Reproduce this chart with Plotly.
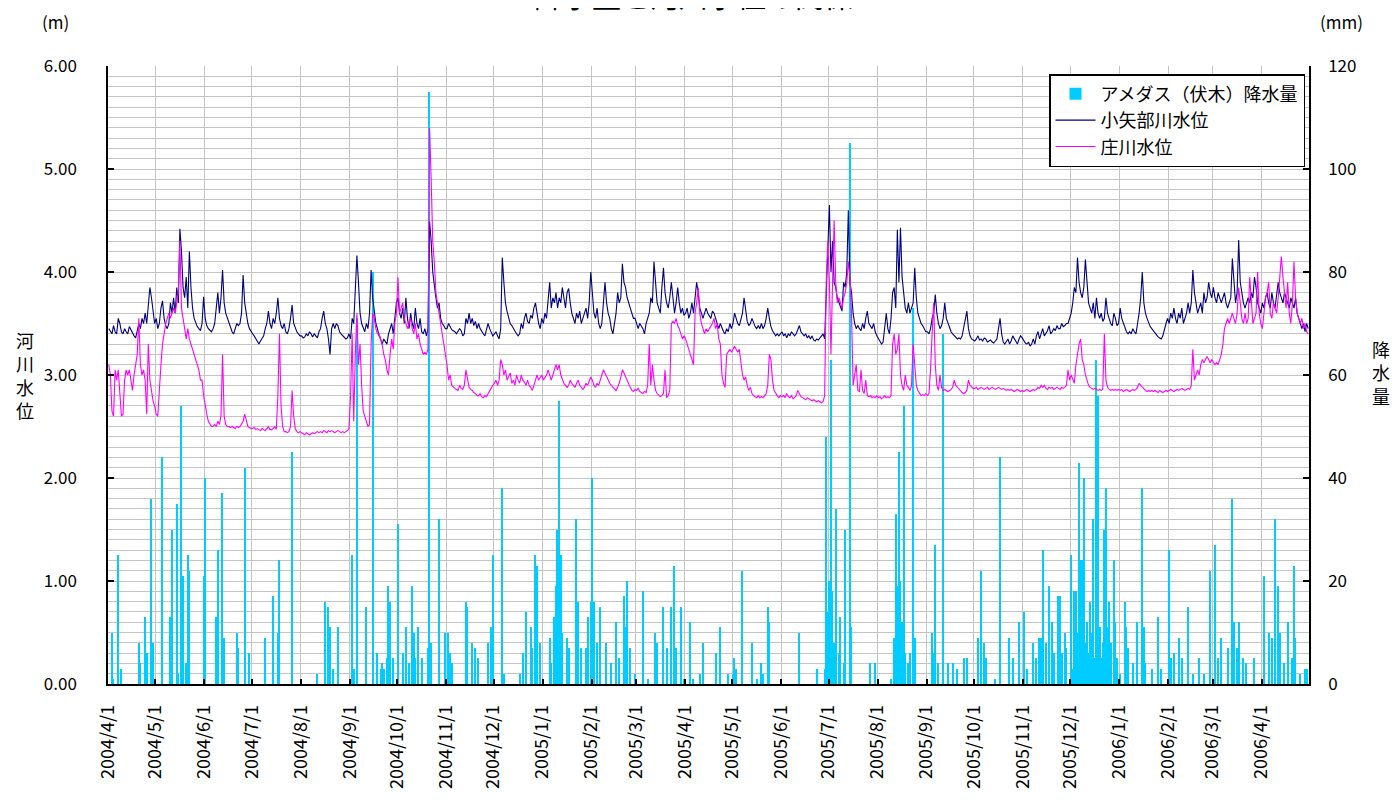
import pandas as pd
import plotly.graph_objects as go

# ---------------- data ----------------
month_labels = ["2004/4/1", "2004/5/1", "2004/6/1", "2004/7/1", "2004/8/1", "2004/9/1",
                "2004/10/1", "2004/11/1", "2004/12/1", "2005/1/1", "2005/2/1", "2005/3/1",
                "2005/4/1", "2005/5/1", "2005/6/1", "2005/7/1", "2005/8/1", "2005/9/1",
                "2005/10/1", "2005/11/1", "2005/12/1", "2006/1/1", "2006/2/1", "2006/3/1",
                "2006/4/1"]

# 小矢部川水位 (m), daily, one list per month
oyabe_level = [
    [3.45,3.42,3.40,3.48,3.42,3.40,3.55,3.50,3.42,3.40,3.45,3.42,3.40,3.47,3.44,3.40,3.38,3.36,3.42,3.50,3.45,3.55,3.50,3.60,3.50,3.65,3.85,3.75,3.60,3.50],
    [3.55,3.45,3.50,3.65,3.72,3.55,3.48,3.45,3.50,3.70,3.60,3.75,3.60,3.85,3.70,4.42,4.20,3.85,3.75,3.95,3.65,4.20,3.85,3.65,3.55,3.50,3.47,3.45,3.43,3.50,3.76],
    [3.55,3.48,3.45,3.43,3.42,3.45,3.50,3.65,3.80,3.60,3.75,4.02,3.70,3.60,3.55,3.50,3.45,3.42,3.40,3.45,3.50,3.48,3.50,3.60,3.97,3.70,3.60,3.50,3.45,3.42],
    [3.40,3.38,3.35,3.32,3.30,3.33,3.35,3.38,3.45,3.50,3.62,3.50,3.45,3.55,3.50,3.60,3.75,3.55,3.48,3.45,3.50,3.42,3.40,3.45,3.55,3.68,3.50,3.45,3.42,3.40,3.38],
    [3.38,3.36,3.37,3.40,3.38,3.42,3.40,3.37,3.40,3.38,3.36,3.42,3.45,3.55,3.62,3.50,3.45,3.35,3.20,3.45,3.50,3.45,3.50,3.48,3.42,3.40,3.38,3.36,3.35,3.36,3.40],
    [3.35,3.55,3.50,3.90,4.16,3.90,3.60,3.50,3.45,3.42,3.50,3.45,3.60,4.02,3.75,3.60,3.50,3.45,3.38,3.35,3.30,3.35,3.32,3.30,3.40,3.45,3.50,3.40,3.55,3.70],
    [3.75,3.60,3.55,3.65,3.50,3.75,3.55,3.45,3.60,3.50,3.45,3.65,3.50,3.45,3.55,3.42,3.40,3.45,3.38,3.45,4.49,4.30,4.00,3.85,3.75,3.65,3.70,3.55,3.50,3.48,3.45],
    [3.45,3.50,3.47,3.44,3.43,3.42,3.40,3.42,3.45,3.43,3.38,3.40,3.55,3.50,3.60,3.50,3.55,3.48,3.52,3.45,3.50,3.45,3.42,3.40,3.38,3.45,3.50,3.45,3.42,3.38],
    [3.40,3.42,3.38,3.35,3.45,4.14,3.90,3.70,3.62,3.55,3.50,3.48,3.45,3.42,3.40,3.38,3.40,3.50,3.45,3.55,3.60,3.52,3.50,3.58,3.55,3.65,3.70,3.60,3.50,3.45,3.55],
    [3.50,3.60,3.55,3.70,3.90,3.65,3.75,3.70,3.80,3.65,3.75,3.70,3.85,3.75,3.65,3.80,3.84,3.70,3.60,3.55,3.50,3.60,3.55,3.62,3.50,3.55,3.60,3.65,3.55,3.70,4.00],
    [3.75,3.60,3.55,3.65,3.50,3.45,3.50,3.70,3.90,3.70,3.60,3.55,3.45,3.40,3.50,3.60,3.80,3.70,3.75,4.08,3.90,3.85,3.75,3.70,3.65,3.60,3.55,3.55],
    [3.50,3.45,3.50,3.48,3.45,3.40,3.50,3.55,3.60,3.75,3.70,4.10,3.85,3.70,3.65,3.60,3.85,4.04,3.80,3.70,3.65,3.75,3.90,3.75,3.60,3.70,3.85,3.70,3.60,3.65,3.58],
    [3.60,3.65,3.55,3.60,3.70,3.60,3.75,3.90,3.80,3.65,3.60,3.55,3.60,3.65,3.60,3.58,3.55,3.62,3.60,3.55,3.50,3.45,3.50,3.45,3.42,3.40,3.45,3.42,3.50,3.45],
    [3.50,3.60,3.55,3.50,3.48,3.55,3.60,3.75,3.60,3.52,3.48,3.50,3.55,3.50,3.47,3.45,3.48,3.45,3.50,3.45,3.48,3.55,3.65,3.55,3.47,3.43,3.40,3.38,3.40,3.38,3.40],
    [3.42,3.38,3.40,3.36,3.40,3.38,3.42,3.40,3.38,3.40,3.45,3.48,3.42,3.40,3.38,3.40,3.36,3.38,3.35,3.38,3.34,3.33,3.35,3.34,3.36,3.38,3.40,3.35,3.86,4.30],
    [4.65,4.00,4.30,3.90,3.85,3.75,3.70,3.65,3.62,3.90,3.85,4.00,4.60,3.90,3.80,3.60,3.50,3.45,3.48,3.45,3.43,3.50,3.45,3.55,3.62,3.50,3.48,3.45,3.50,3.42,3.38],
    [3.35,3.32,3.30,3.32,3.45,3.60,3.45,3.40,3.55,3.80,3.85,3.65,4.41,3.90,4.43,3.95,3.80,3.65,3.60,3.70,3.60,3.65,3.70,4.04,3.75,3.60,3.55,3.50,3.48,3.45,3.42],
    [3.42,3.40,3.45,3.55,3.60,3.78,3.60,3.50,3.45,3.48,3.55,3.70,3.55,3.50,3.45,3.42,3.40,3.38,3.36,3.35,3.36,3.35,3.38,3.45,3.55,3.62,3.45,3.38,3.35,3.34],
    [3.33,3.35,3.38,3.34,3.35,3.33,3.36,3.35,3.32,3.33,3.34,3.32,3.31,3.33,3.35,3.45,3.55,3.40,3.32,3.30,3.32,3.35,3.30,3.33,3.38,3.35,3.32,3.30,3.35,3.38,3.36],
    [3.33,3.31,3.30,3.32,3.28,3.30,3.35,3.30,3.38,3.42,3.35,3.40,3.45,3.38,3.40,3.43,3.48,3.40,3.42,3.45,3.43,3.48,3.45,3.45,3.50,3.47,3.48,3.50,3.50,3.55],
    [3.60,3.70,3.85,3.80,4.14,3.90,3.80,3.75,3.85,4.12,3.85,3.70,3.65,3.60,3.70,3.55,3.75,3.60,3.55,3.60,3.52,3.55,3.75,3.60,3.55,3.50,3.48,3.60,3.55,3.48,3.50],
    [3.65,3.55,3.50,3.45,3.42,3.40,3.42,3.40,3.45,3.42,3.40,3.50,3.60,3.75,4.00,3.70,3.60,3.55,3.50,3.47,3.45,3.43,3.40,3.38,3.37,3.36,3.35,3.38,3.45,3.50,3.55],
    [3.50,3.60,3.55,3.65,3.55,3.50,3.60,3.55,3.65,3.50,3.55,3.60,3.70,3.60,3.70,4.02,3.80,3.70,3.60,3.65,3.70,3.60,3.80,3.70,3.75,3.90,3.80,3.75],
    [3.85,3.75,3.70,3.80,3.75,3.70,3.75,3.80,3.70,3.65,3.70,3.75,4.13,3.85,3.70,3.80,4.31,3.90,3.80,3.70,3.65,3.70,3.75,3.70,3.80,3.75,3.95,3.85,3.70,3.65,3.60],
    [3.70,3.65,3.75,3.80,3.70,3.65,3.80,3.70,3.65,3.80,3.90,3.80,3.75,3.70,3.80,3.75,3.70,3.65,3.75,3.70,3.65,3.75,3.60,3.55,3.50,3.45,3.50,3.42,3.50,3.45],
]

# 庄川水位 (m), daily, one list per month
shokawa_level = [
    [3.10,3.00,2.65,2.60,3.05,2.95,3.05,2.85,2.60,2.62,2.95,3.05,3.00,3.05,2.95,2.85,3.00,3.10,3.20,3.55,3.10,3.00,3.05,2.95,2.62,3.30,2.95,2.85,2.75,2.70],
    [2.62,2.60,2.90,3.10,3.30,3.40,3.50,3.55,3.60,3.55,3.60,3.65,3.60,3.70,3.80,4.30,3.65,3.55,3.45,3.35,3.45,3.35,3.30,3.25,3.20,3.15,3.10,3.05,2.95,2.95,2.80],
    [2.70,2.62,2.55,2.52,2.50,2.50,2.52,2.50,2.55,2.52,2.60,3.20,2.60,2.52,2.50,2.50,2.49,2.50,2.49,2.48,2.50,2.49,2.50,2.52,2.55,2.62,2.55,2.50,2.49,2.48],
    [2.48,2.49,2.47,2.48,2.47,2.46,2.48,2.47,2.46,2.48,2.50,2.47,2.47,2.48,2.50,2.47,2.80,3.40,2.70,2.50,2.45,2.45,2.44,2.45,2.50,2.85,2.60,2.48,2.45,2.44,2.45],
    [2.44,2.43,2.42,2.44,2.43,2.42,2.43,2.44,2.43,2.44,2.45,2.44,2.45,2.44,2.46,2.45,2.44,2.46,2.45,2.46,2.45,2.44,2.45,2.46,2.45,2.44,2.45,2.44,2.45,2.46,2.48],
    [2.80,3.40,2.55,3.20,3.60,3.10,3.30,2.90,2.65,2.60,2.55,2.50,2.52,3.30,3.60,3.55,3.45,3.40,3.40,3.35,3.30,3.20,3.15,3.05,3.00,3.20,3.35,3.25,3.50,3.60],
    [3.95,3.60,3.65,3.70,3.55,3.50,3.45,3.50,3.55,3.45,3.40,3.50,3.35,3.40,3.30,3.25,3.20,3.22,3.20,3.25,5.40,4.90,4.30,4.10,3.80,3.70,3.60,3.50,3.40,3.30,3.20],
    [3.10,2.95,3.00,2.90,2.88,2.87,2.86,2.85,2.90,2.87,2.86,2.90,3.05,2.95,2.88,2.86,2.85,2.83,2.82,2.80,2.80,2.82,2.79,2.78,2.80,2.79,2.82,2.85,2.88,2.90],
    [2.92,2.95,2.90,2.95,3.15,3.10,3.00,3.05,2.95,2.98,3.02,2.92,2.95,2.90,3.00,2.95,2.92,3.00,2.95,2.93,2.90,2.95,2.90,2.88,2.85,2.90,2.95,3.00,2.95,2.98,3.00],
    [2.95,2.98,3.00,3.05,3.00,2.95,3.00,3.05,3.10,3.05,3.10,3.00,2.95,2.92,2.90,2.88,2.90,2.95,2.92,2.90,2.88,2.92,2.95,2.90,2.88,2.86,2.88,2.92,2.90,2.95,2.98],
    [2.95,2.90,2.88,2.92,2.90,2.95,3.00,3.05,3.02,2.98,2.95,2.92,2.90,2.88,2.86,2.85,2.88,2.92,2.98,3.05,3.02,2.98,2.95,2.90,2.88,2.85,2.84,2.86],
    [2.85,2.87,2.84,2.83,2.82,2.84,2.83,2.90,3.30,2.90,3.10,2.95,2.85,2.82,2.80,2.79,2.80,2.82,3.05,2.78,2.80,2.85,3.50,3.52,3.50,3.55,3.48,3.45,3.40,3.35,3.38],
    [3.35,3.30,3.25,3.20,3.15,3.10,3.60,3.70,3.85,3.60,3.50,3.45,3.40,3.45,3.42,3.45,3.48,3.50,3.55,3.45,3.50,3.35,3.30,3.00,2.92,2.88,3.20,3.22,3.25,3.22],
    [3.25,3.28,3.25,3.22,3.25,3.10,3.00,2.95,2.98,2.90,2.85,2.88,2.82,2.80,2.79,2.78,2.80,2.78,2.79,2.78,2.80,2.82,2.90,3.20,3.15,2.95,2.85,2.82,2.80,2.78,2.80],
    [2.79,2.80,2.78,2.82,2.79,2.78,2.80,2.77,2.78,2.80,2.85,2.82,2.79,2.78,2.77,2.76,2.78,2.77,2.76,2.75,2.76,2.75,2.74,2.75,2.74,2.73,2.74,2.80,3.90,4.30],
    [3.90,3.20,3.90,4.50,3.90,3.70,3.75,3.70,3.65,3.75,3.80,3.90,4.10,3.95,3.60,2.90,3.00,3.10,2.85,2.84,3.05,2.85,2.82,2.95,2.80,2.79,2.80,2.78,2.79,2.78,2.80],
    [2.78,2.79,2.77,2.78,2.80,2.78,2.79,2.78,2.80,3.30,3.40,3.20,3.25,3.40,3.00,2.90,2.85,3.00,2.90,2.88,2.85,2.90,3.30,3.10,2.90,2.85,2.82,2.80,2.81,2.80,2.82],
    [2.80,2.82,3.05,3.40,3.70,3.10,2.90,2.85,3.00,2.88,2.85,2.86,2.85,2.84,2.85,2.86,2.88,2.95,2.90,2.88,2.86,2.84,2.83,2.82,2.83,2.85,2.95,2.90,2.88,2.87],
    [2.87,2.88,2.86,2.87,2.88,2.87,2.86,2.87,2.88,2.86,2.87,2.88,2.87,2.86,2.87,2.88,2.87,2.86,2.87,2.86,2.85,2.86,2.85,2.86,2.85,2.84,2.85,2.86,2.85,2.84,2.85],
    [2.84,2.85,2.86,2.85,2.84,2.85,2.86,2.85,2.86,2.88,2.87,2.90,2.88,2.90,2.87,2.86,2.88,2.87,2.88,2.86,2.87,2.88,2.87,2.86,2.88,2.87,2.88,2.90,3.05,2.95],
    [3.00,2.95,2.92,3.10,3.20,3.30,3.35,3.15,3.10,3.00,2.95,2.90,2.88,2.87,2.86,2.87,2.86,2.85,2.86,2.85,2.86,3.40,2.95,2.88,2.86,2.85,2.86,2.85,2.86,2.85,2.86],
    [2.85,2.86,2.84,2.85,2.86,2.85,2.84,2.85,2.86,2.85,2.86,2.88,2.92,2.90,2.88,2.86,2.85,2.84,2.85,2.84,2.85,2.84,2.85,2.84,2.83,2.85,2.84,2.83,2.84,2.85,2.84],
    [2.85,2.86,2.85,2.84,2.85,2.86,2.85,2.86,2.87,2.86,2.85,2.86,2.87,2.86,2.90,3.25,2.95,3.00,3.05,3.00,3.10,3.15,3.12,3.15,3.18,3.15,3.12,3.15],
    [3.12,3.10,3.12,3.10,3.15,3.20,3.30,3.45,3.50,3.55,3.50,3.55,3.60,3.55,3.50,3.60,3.85,3.70,3.55,3.50,3.60,3.50,3.55,3.95,3.70,3.50,3.55,3.60,4.00,3.60,3.50],
    [3.45,3.60,3.75,3.80,3.90,3.60,3.55,3.70,3.65,3.60,3.75,3.95,4.15,3.95,3.80,3.65,3.90,3.60,3.50,3.70,4.10,3.75,3.60,3.55,3.50,3.55,3.45,3.50,3.42,3.40],
]

# アメダス(伏木)降水量 (mm): rainy days, counted from 2004/4/1
rain_day = [2,3,6,8,19,20,23,24,27,28,34,39,40,43,44,46,47,49,50,51,60,61,68,69,72,73,81,82,86,89,
            99,104,107,108,116,132,137,139,140,142,145,154,155,157,163,167,170,172,173,174,176,177,178,180,
            183,186,188,190,192,193,194,196,198,202,203,204,209,213,215,216,217,226,227,230,232,234,240,242,243,
            249,250,260,262,264,267,268,270,271,273,279,280,282,283,284,285,286,287,290,291,296,297,299,302,303,
            305,306,307,309,311,315,318,321,323,326,327,328,330,333,338,341,346,347,351,353,356,358,359,362,364,
            368,370,374,376,384,387,392,395,396,397,401,407,410,413,414,417,418,437,448,453,454,455,456,457,458,
            459,460,462,463,465,466,469,470,482,485,495,497,498,499,500,501,502,503,504,506,507,509,510,521,522,
            523,525,528,531,534,537,541,543,550,552,554,555,561,564,570,572,576,579,581,585,587,589,590,591,593,
            595,597,598,601,602,603,605,606,609,610,611,612,613,614,615,616,617,618,619,620,621,622,623,624,625,
            626,627,628,629,630,631,632,633,634,636,637,638,640,643,644,645,648,651,654,655,656,660,664,666,671,
            672,674,677,679,683,686,690,693,697,700,702,704,708,711,712,714,715,718,720,725,731,734,736,738,740,
            741,744,746,749,750,751,754,757,758]
rain_mm = [10,1,25,3,8,4,13,6,36,8,44,13,30,35,2,54,21,4,25,22,21,40,13,26,37,9,10,7,42,6,
           9,17,10,24,45,2,16,15,11,3,11,25,3,71,15,80,6,3,4,3,5,19,16,5,
           31,6,11,4,19,10,5,11,5,7,115,8,32,10,10,6,4,16,15,8,7,5,8,11,25,
           38,2,2,6,14,11,7,25,23,8,9,4,13,19,30,55,25,10,9,7,32,16,7,7,13,
           16,40,16,8,15,8,4,12,5,17,11,20,7,2,18,1,10,8,15,7,15,23,7,15,1,
           12,1,2,8,6,11,2,2,5,3,22,8,1,4,2,15,12,10,3,3,48,14,20,63,18,
           8,34,6,13,4,30,105,11,4,4,1,9,33,19,45,20,12,54,6,4,6,73,9,10,6,
           27,4,68,4,4,3,5,5,9,22,8,5,1,44,9,5,12,14,3,8,5,9,9,26,8,
           19,12,6,17,17,6,10,7,25,3,18,18,10,43,24,24,40,8,12,6,16,10,32,5,63,
           56,11,5,8,30,38,11,16,8,24,12,5,2,16,11,7,4,12,38,11,4,3,13,3,26,
           5,6,9,5,15,2,5,2,22,27,5,9,7,36,12,7,12,5,4,5,21,10,9,32,19,
           10,4,12,5,23,9,2,3,3]

# ---------------- build series ----------------
start = pd.Timestamp("2004-04-01")
month_starts = pd.date_range("2004-04-01", periods=len(month_labels), freq="MS")

def daily(month_lists):
    xs, ys = [], []
    for ms, vals in zip(month_starts, month_lists):
        for i, v in enumerate(vals):
            xs.append(ms + pd.Timedelta(days=i, hours=12))
            ys.append(v)
    return xs, ys

ox, oy = daily(oyabe_level)
sx, sy = daily(shokawa_level)
rx = [start + pd.Timedelta(days=d, hours=12) for d in rain_day]

FONT = "Noto Sans CJK JP"
GRID = "#C4C4C4"

# plot area in page pixels: x 108..1309, y 66..684 (page has an 8px body margin)
PX0, PX1, PY0, PY1 = 108, 1309, 66, 684
def px(x):
    return (x - PX0) / (PX1 - PX0)
def py(y):
    return (PY1 - y) / (PY1 - PY0)

fig = go.Figure()
fig.add_trace(go.Bar(x=rx, y=rain_mm, name="アメダス（伏木）降水量",
                     marker=dict(color="#00CCFF", line=dict(width=0)),
                     width=0.75 * 86400000, yaxis="y"))
fig.add_trace(go.Scatter(x=ox, y=oy, name="小矢部川水位", mode="lines",
                         line=dict(color="#000080", width=1.1), yaxis="y2"))
fig.add_trace(go.Scatter(x=sx, y=sy, name="庄川水位", mode="lines",
                         line=dict(color="#FF00FF", width=1.1), yaxis="y2"))

fig.update_layout(
    width=1399, height=804,
    margin=dict(l=100, r=98, t=58, b=128, autoexpand=False),
    paper_bgcolor="white", plot_bgcolor="white",
    font=dict(family=FONT, size=17, color="black"),
    showlegend=True,
    legend=dict(x=px(1305), y=py(74), xanchor="right", yanchor="top",
                bgcolor="white", bordercolor="black", borderwidth=1.5,
                font=dict(size=18, family=FONT), tracegroupgap=0, itemwidth=40),
    bargap=0,
    xaxis=dict(type="date", range=[start, pd.Timestamp("2006-05-01")],
               tickvals=list(month_starts), ticktext=month_labels, tickangle=-90,
               ticks="inside", ticklen=5, tickcolor="black", tickwidth=1.5,
               showline=True, linecolor="black", linewidth=1.5,
               showgrid=True, gridcolor=GRID, gridwidth=1,
               zeroline=False, ticklabelstandoff=12, tickfont=dict(size=18),
               automargin=False),
    yaxis=dict(side="right", range=[0, 120], dtick=20, tickformat="d",
               ticks="inside", ticklen=6, tickcolor="black", tickwidth=1.5,
               showline=True, linecolor="black", linewidth=1.5,
               showgrid=False, zeroline=False, ticklabelstandoff=14,
               automargin=False),
    yaxis2=dict(side="left", overlaying="y", range=[0, 6], dtick=1, tickformat=".2f",
                ticks="inside", ticklen=6, tickcolor="black", tickwidth=1.5,
                showline=True, linecolor="black", linewidth=1.5,
                showgrid=True, gridcolor=GRID, gridwidth=1,
                minor=dict(dtick=0.1, showgrid=True, gridcolor=GRID, gridwidth=1),
                zeroline=False, ticklabelstandoff=26, automargin=False),
)

def note(text, x, y, size):
    fig.add_annotation(text=text, xref="paper", yref="paper", x=px(x), y=py(y),
                       xanchor="center", yanchor="middle", showarrow=False,
                       font=dict(size=size, family=FONT))

note("降水量と河川水位の関係", 693, -5, 29)
note("(m)", 56, 22, 17)
note("(mm)", 1341, 22, 17)
note("河<br>川<br>水<br>位", 25, 375, 18)
note("降<br>水<br>量", 1381, 372, 18)

fig.write_html("out.html")
